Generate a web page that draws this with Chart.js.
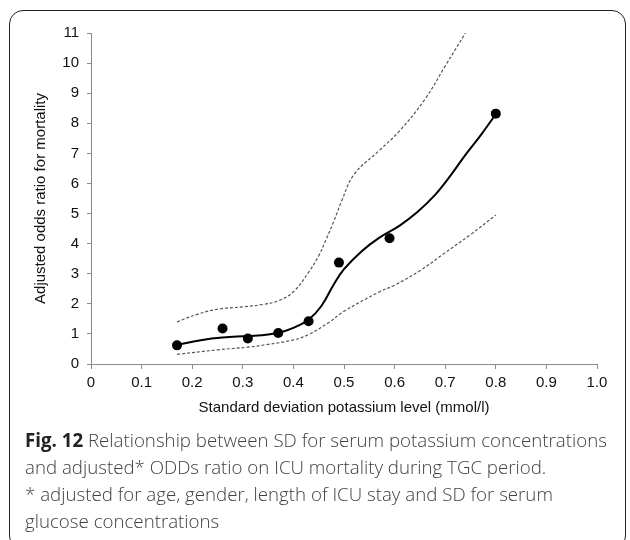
<!DOCTYPE html>
<html lang="en">
    <head>
        <meta charset="UTF-8" />
        <title>Potassium SD vs adjusted odds ratio</title>
        <script src="https://cdn.jsdelivr.net/npm/chart.js"></script>
        <style>
            body { margin: 0; background: #fff; width: 630px; height: 540px; overflow: hidden; position: relative; }
            .frame {
                position: absolute; left: 9px; top: 10px; width: 617px; height: 540px;
                border: 1.5px solid #222; border-radius: 14px; box-sizing: border-box;
            }
            #chartWrap { position: absolute; left: 0; top: 0; width: 630px; height: 430px; }
            .caption {
                position: absolute; left: 25px; top: 426px; width: 610px; white-space: nowrap;
                font-family: "Open Sans", sans-serif; font-size: 18.7px; line-height: 27px;
                color: #404040; font-weight: 300;
            }
            .caption b { font-weight: 700; color: #222; }
        </style>
    </head>
    <body>
        <div class="frame"></div>
        <div id="chartWrap"><canvas id="orChart" width="630" height="430"></canvas></div>
        <div class="caption">
            <b>Fig. 12</b> Relationship between SD for serum potassium concentrations<br />
            and adjusted* ODDs ratio on ICU mortality during TGC period.<br />
            * adjusted for age, gender, length of ICU stay and SD for serum<br />
            glucose concentrations
        </div>

        <script>
            // observed groups: SD of potassium vs adjusted odds ratio
            const sdLevels = [0.17, 0.26, 0.31, 0.37, 0.43, 0.49, 0.59, 0.80];
            const oddsRatios = [0.62, 1.18, 0.85, 1.03, 1.42, 3.37, 4.18, 8.32];

            // fitted curve and its confidence band
            const fitX = [0.17, 0.22, 0.26, 0.31, 0.35, 0.38, 0.41, 0.43, 0.455, 0.48, 0.50, 0.535, 0.57, 0.61, 0.645, 0.68, 0.71, 0.74, 0.77, 0.80];
            const fitY = [0.63, 0.80, 0.88, 0.93, 0.98, 1.08, 1.28, 1.47, 1.92, 2.65, 3.15, 3.75, 4.20, 4.60, 5.05, 5.62, 6.25, 6.95, 7.60, 8.30];
            const upperX = [0.17, 0.21, 0.25, 0.30, 0.34, 0.37, 0.40, 0.43, 0.45, 0.465, 0.48, 0.495, 0.52, 0.57, 0.61, 0.66, 0.70, 0.74];
            const upperY = [1.40, 1.65, 1.82, 1.90, 1.98, 2.10, 2.40, 3.05, 3.60, 4.15, 4.75, 5.40, 6.30, 7.10, 7.75, 8.80, 9.90, 11.0];
            const lowerX = [0.17, 0.25, 0.31, 0.35, 0.40, 0.43, 0.47, 0.50, 0.57, 0.60, 0.65, 0.70, 0.75, 0.80];
            const lowerY = [0.32, 0.47, 0.56, 0.65, 0.80, 0.98, 1.38, 1.75, 2.40, 2.62, 3.10, 3.70, 4.30, 4.95];

            const xTicks = ['0', '0.1', '0.2', '0.3', '0.4', '0.5', '0.6', '0.7', '0.8', '0.9', '1.0'];

            const pairs = (xs, ys) => xs.map((x, i) => ({ x: x, y: ys[i] }));

            const axisColor = '#8a8a8a';
            const labelFont = { family: 'Liberation Sans, Arial, sans-serif', size: 15 };

            const dashed = (xs, ys) => ({
                data: pairs(xs, ys),
                showLine: true,
                pointRadius: 0,
                borderColor: '#555',
                borderWidth: 1.2,
                borderDash: [3, 2],
                tension: 0.4,
                order: 3
            });

            new Chart(document.getElementById('orChart'), {
                type: 'scatter',
                data: {
                    datasets: [
                        {
                            data: pairs(sdLevels, oddsRatios),
                            pointRadius: 5,
                            backgroundColor: '#000',
                            borderColor: '#000',
                            borderWidth: 0,
                            order: 1
                        },
                        {
                            data: pairs(fitX, fitY),
                            showLine: true,
                            pointRadius: 0,
                            borderColor: '#000',
                            borderWidth: 2,
                            tension: 0.4,
                            order: 2
                        },
                        dashed(upperX, upperY),
                        dashed(lowerX, lowerY)
                    ]
                },
                options: {
                    responsive: false,
                    animation: false,
                    layout: { padding: { left: 0, right: 33, top: 33, bottom: 0 } },
                    plugins: { legend: { display: false }, tooltip: { enabled: false } },
                    scales: {
                        x: {
                            type: 'linear',
                            min: 0,
                            max: 1,
                            ticks: {
                                stepSize: 0.1,
                                color: '#111',
                                font: labelFont,
                                padding: 5,
                                maxRotation: 0,
                                callback: (v) => xTicks[Math.round(v * 10)]
                            },
                            grid: { drawOnChartArea: false, color: axisColor, tickLength: 5 },
                            border: { color: axisColor, width: 1 },
                            title: {
                                display: true,
                                text: 'Standard deviation potassium level (mmol/l)',
                                color: '#111',
                                font: labelFont,
                                padding: { top: 0, bottom: 13 }
                            },
                            afterFit: (scale) => { scale.height = 66; }
                        },
                        y: {
                            min: 0,
                            max: 11,
                            ticks: {
                                stepSize: 0.5,
                                color: '#111',
                                font: labelFont,
                                padding: 8,
                                callback: (v) => (Number.isInteger(v) ? String(v) : '')
                            },
                            grid: { drawOnChartArea: false, color: axisColor, tickLength: 4 },
                            border: { color: axisColor, width: 1 },
                            title: {
                                display: true,
                                text: 'Adjusted odds ratio for mortality',
                                color: '#111',
                                font: labelFont,
                                padding: { top: 32, bottom: 0 }
                            },
                            afterFit: (scale) => { scale.width = 91; }
                        }
                    }
                }
            });
        </script>
    </body>
</html>
